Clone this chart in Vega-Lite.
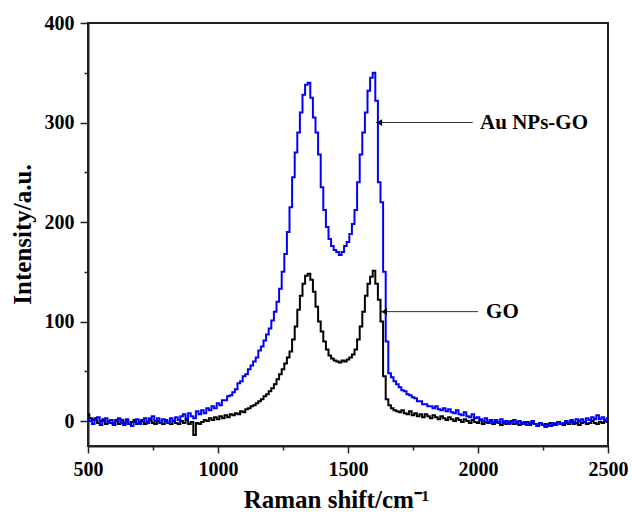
{
  "$schema": "https://vega.github.io/schema/vega-lite/v6.json",
  "width": 520,
  "height": 423,
  "autosize": {"type": "none"},
  "padding": {"left": 88, "top": 23, "right": 24, "bottom": 68},
  "background": "white",
  "config": {
    "view": {"stroke": "#222", "strokeWidth": 2},
    "axis": {
      "labelFont": "Liberation Serif",
      "labelFontWeight": "bold",
      "labelFontSize": 20,
      "labelColor": "#000",
      "titleFont": "Liberation Serif",
      "titleFontWeight": "bold",
      "titleFontSize": 25,
      "titleColor": "#000",
      "tickColor": "#222",
      "tickWidth": 1.5,
      "domainColor": "#222",
      "domainWidth": 2,
      "grid": false
    }
  },
  "datasets": {
    "spectra": [
      {"x":500,"go":7,"au":3},{"x":510,"go":3,"au":0},{"x":520,"go":1,"au":-3},{"x":530,"go":3,"au":2},{"x":540,"go":-2,"au":4},
      {"x":550,"go":0,"au":-4},{"x":560,"go":2,"au":0},{"x":570,"go":-3,"au":3},{"x":580,"go":0,"au":-2},{"x":590,"go":-2,"au":1},
      {"x":600,"go":-4,"au":-3},{"x":610,"go":1,"au":0},{"x":620,"go":-3,"au":3},{"x":630,"go":1,"au":-2},{"x":640,"go":-2,"au":-4},
      {"x":650,"go":0,"au":2},{"x":660,"go":-3,"au":-3},{"x":670,"go":-1,"au":-5},{"x":680,"go":1,"au":-1},{"x":690,"go":-3,"au":2},
      {"x":700,"go":-1,"au":-3},{"x":710,"go":1,"au":0},{"x":720,"go":-3,"au":3},{"x":730,"go":-1,"au":-2},{"x":740,"go":1,"au":3},
      {"x":750,"go":-2,"au":5},{"x":760,"go":-3,"au":0},{"x":770,"go":0,"au":3},{"x":780,"go":-2,"au":-2},{"x":790,"go":-3,"au":2},
      {"x":800,"go":0,"au":1},{"x":810,"go":-2,"au":-2},{"x":820,"go":-3,"au":3},{"x":830,"go":0,"au":0},{"x":840,"go":-2,"au":4},
      {"x":850,"go":-3,"au":1},{"x":860,"go":0,"au":5},{"x":870,"go":-2,"au":7},{"x":880,"go":1,"au":3},{"x":890,"go":-3,"au":8},
      {"x":900,"go":-1,"au":5},{"x":910,"go":-14,"au":3},{"x":920,"go":-2,"au":10},{"x":930,"go":-3,"au":7},{"x":940,"go":-1,"au":11},
      {"x":950,"go":1,"au":8},{"x":960,"go":0,"au":13},{"x":970,"go":3,"au":11},{"x":980,"go":1,"au":15},{"x":990,"go":4,"au":13},
      {"x":1000,"go":2,"au":18},{"x":1010,"go":5,"au":16},{"x":1020,"go":3,"au":21},{"x":1030,"go":6,"au":21},{"x":1040,"go":4,"au":25},
      {"x":1050,"go":7,"au":26},{"x":1060,"go":6,"au":29},{"x":1070,"go":8,"au":32},{"x":1080,"go":7,"au":38},{"x":1090,"go":10,"au":40},
      {"x":1100,"go":9,"au":45},{"x":1110,"go":12,"au":47},{"x":1120,"go":13,"au":52},{"x":1130,"go":15,"au":56},{"x":1140,"go":16,"au":60},
      {"x":1150,"go":18,"au":64},{"x":1160,"go":20,"au":71},{"x":1170,"go":22,"au":75},{"x":1180,"go":25,"au":81},{"x":1190,"go":27,"au":87},
      {"x":1200,"go":30,"au":93},{"x":1210,"go":33,"au":101},{"x":1220,"go":37,"au":110},{"x":1230,"go":42,"au":120},{"x":1240,"go":47,"au":133},
      {"x":1250,"go":52,"au":150},{"x":1260,"go":58,"au":168},{"x":1270,"go":64,"au":190},{"x":1280,"go":70,"au":215},{"x":1290,"go":82,"au":245},
      {"x":1300,"go":95,"au":270},{"x":1310,"go":112,"au":290},{"x":1320,"go":126,"au":310},{"x":1330,"go":138,"au":328},{"x":1340,"go":146,"au":338},
      {"x":1350,"go":148,"au":340},{"x":1360,"go":142,"au":325},{"x":1370,"go":130,"au":305},{"x":1380,"go":115,"au":290},{"x":1390,"go":100,"au":268},
      {"x":1400,"go":90,"au":235},{"x":1410,"go":80,"au":212},{"x":1420,"go":72,"au":195},{"x":1430,"go":66,"au":183},{"x":1440,"go":63,"au":176},
      {"x":1450,"go":61,"au":172},{"x":1460,"go":60,"au":170},{"x":1470,"go":59,"au":167},{"x":1480,"go":61,"au":170},{"x":1490,"go":60,"au":176},
      {"x":1500,"go":62,"au":180},{"x":1510,"go":64,"au":188},{"x":1520,"go":67,"au":198},{"x":1530,"go":72,"au":212},{"x":1540,"go":82,"au":240},
      {"x":1550,"go":95,"au":268},{"x":1560,"go":110,"au":290},{"x":1570,"go":126,"au":310},{"x":1580,"go":138,"au":332},{"x":1590,"go":145,"au":345},
      {"x":1600,"go":151,"au":350},{"x":1610,"go":138,"au":322},{"x":1620,"go":122,"au":240},{"x":1630,"go":100,"au":220},{"x":1640,"go":45,"au":150},
      {"x":1650,"go":22,"au":80},{"x":1660,"go":16,"au":48},{"x":1670,"go":13,"au":44},{"x":1680,"go":11,"au":40},{"x":1690,"go":10,"au":37},
      {"x":1700,"go":9,"au":34},{"x":1710,"go":11,"au":31},{"x":1720,"go":8,"au":30},{"x":1730,"go":7,"au":27},{"x":1740,"go":10,"au":26},
      {"x":1750,"go":6,"au":24},{"x":1760,"go":8,"au":23},{"x":1770,"go":5,"au":20},{"x":1780,"go":7,"au":20},{"x":1790,"go":4,"au":17},
      {"x":1800,"go":7,"au":17},{"x":1810,"go":5,"au":15},{"x":1820,"go":3,"au":15},{"x":1830,"go":6,"au":13},{"x":1840,"go":4,"au":15},
      {"x":1850,"go":2,"au":12},{"x":1860,"go":5,"au":11},{"x":1870,"go":3,"au":13},{"x":1880,"go":1,"au":10},{"x":1890,"go":4,"au":12},
      {"x":1900,"go":2,"au":9},{"x":1910,"go":0,"au":8},{"x":1920,"go":3,"au":11},{"x":1930,"go":1,"au":7},{"x":1940,"go":-1,"au":6},
      {"x":1950,"go":2,"au":9},{"x":1960,"go":0,"au":5},{"x":1970,"go":-2,"au":4},{"x":1980,"go":1,"au":7},{"x":1990,"go":-1,"au":3},
      {"x":2000,"go":-2,"au":4},{"x":2010,"go":1,"au":2},{"x":2020,"go":-3,"au":0},{"x":2030,"go":-1,"au":3},{"x":2040,"go":-2,"au":-1},
      {"x":2050,"go":1,"au":1},{"x":2060,"go":-3,"au":-2},{"x":2070,"go":-1,"au":1},{"x":2080,"go":-2,"au":-1},{"x":2090,"go":-4,"au":2},
      {"x":2100,"go":-1,"au":-2},{"x":2110,"go":-3,"au":0},{"x":2120,"go":-2,"au":-3},{"x":2130,"go":0,"au":-1},{"x":2140,"go":-3,"au":1},
      {"x":2150,"go":-1,"au":-2},{"x":2160,"go":-4,"au":0},{"x":2170,"go":-2,"au":-3},{"x":2180,"go":-3,"au":-1},{"x":2190,"go":-1,"au":-4},
      {"x":2200,"go":-4,"au":-2},{"x":2210,"go":-2,"au":0},{"x":2220,"go":-3,"au":-3},{"x":2230,"go":-5,"au":-5},{"x":2240,"go":-2,"au":-2},
      {"x":2250,"go":-4,"au":-4},{"x":2260,"go":-3,"au":-6},{"x":2270,"go":-5,"au":-3},{"x":2280,"go":-2,"au":-5},{"x":2290,"go":-4,"au":-2},
      {"x":2300,"go":-3,"au":-4},{"x":2310,"go":-1,"au":-1},{"x":2320,"go":-3,"au":-3},{"x":2330,"go":-4,"au":-2},{"x":2340,"go":-2,"au":0},
      {"x":2350,"go":-3,"au":-2},{"x":2360,"go":-1,"au":1},{"x":2370,"go":-3,"au":-1},{"x":2380,"go":-2,"au":2},{"x":2390,"go":-4,"au":0},
      {"x":2400,"go":-2,"au":2},{"x":2410,"go":-1,"au":-1},{"x":2420,"go":-3,"au":3},{"x":2430,"go":-2,"au":1},{"x":2440,"go":0,"au":4},
      {"x":2450,"go":-2,"au":2},{"x":2460,"go":-3,"au":6},{"x":2470,"go":-1,"au":2},{"x":2480,"go":-2,"au":4},{"x":2490,"go":0,"au":1},
      {"x":2500,"go":-1,"au":3}
    ],
    "notes": [
      {"label":"Au NPs-GO","y":300,"tip":1607,"head":1620,"end":1980,"text_x":2008},
      {"label":"GO","y":110,"tip":1626,"head":1639,"end":2000,"text_x":2031}
    ]
  },
  "resolve": {"axis": {"x": "independent", "y": "independent"}},
  "layer": [
    {
      "data": {"name": "spectra"},
      "mark": {"type": "line", "interpolate": "step", "color": "#000000", "strokeWidth": 2, "clip": true},
      "encoding": {
        "x": {"field": "x", "type": "quantitative",
              "scale": {"domain": [500, 2500], "nice": false, "zero": false},
              "axis": {"orient": "bottom", "title": "Raman shift/cm⁻¹", "values": [500, 1000, 1500, 2000, 2500], "format": "d",
                       "tickSize": 7, "labelPadding": 6, "labelFlush": false,
                       "titleX": 248, "titleY": 61, "titleAlign": "center", "titleBaseline": "alphabetic"}},
        "y": {"field": "go", "type": "quantitative",
              "scale": {"domain": [-25, 400], "nice": false, "zero": false},
              "axis": {"orient": "left", "title": "Intensity/a.u.", "values": [0, 100, 200, 300, 400], "format": "d",
                       "tickSize": 8, "labelPadding": 6,
                       "titleX": -58, "titleY": 211, "titleAlign": "center", "titleBaseline": "alphabetic", "titleAngle": -90}}
      }
    },
    {
      "data": {"name": "spectra"},
      "mark": {"type": "line", "interpolate": "step", "color": "#0000FF", "strokeWidth": 2, "clip": true},
      "encoding": {
        "x": {"field": "x", "type": "quantitative", "scale": {"domain": [500, 2500], "nice": false, "zero": false}, "axis": null},
        "y": {"field": "au", "type": "quantitative", "scale": {"domain": [-25, 400], "nice": false, "zero": false}, "axis": null}
      }
    },
    {
      "data": {"name": "notes"},
      "mark": {"type": "rule", "color": "#333", "strokeWidth": 1},
      "encoding": {
        "x": {"field": "tip", "type": "quantitative", "scale": {"domain": [500, 2500], "nice": false, "zero": false},
              "axis": {"orient": "bottom", "title": null, "values": [750, 1250, 1750, 2250], "tickSize": 4, "labels": false, "domain": false}},
        "x2": {"field": "end"},
        "y": {"field": "y", "type": "quantitative", "scale": {"domain": [-25, 400], "nice": false, "zero": false},
              "axis": {"orient": "left", "title": null, "values": [50, 150, 250, 350], "tickSize": 4, "labels": false, "domain": false}}
      }
    },
    {
      "data": {"name": "notes"},
      "mark": {"type": "point", "shape": "triangle-left", "filled": true, "color": "#000", "size": 45, "opacity": 1},
      "encoding": {
        "x": {"field": "head", "type": "quantitative", "scale": {"domain": [500, 2500], "nice": false, "zero": false}, "axis": null},
        "y": {"field": "y", "type": "quantitative", "scale": {"domain": [-25, 400], "nice": false, "zero": false}, "axis": null}
      }
    },
    {
      "data": {"name": "notes"},
      "mark": {"type": "text", "align": "left", "baseline": "middle", "font": "Liberation Serif", "fontWeight": "bold", "fontSize": 21, "color": "#000"},
      "encoding": {
        "x": {"field": "text_x", "type": "quantitative", "scale": {"domain": [500, 2500], "nice": false, "zero": false}, "axis": null},
        "y": {"field": "y", "type": "quantitative", "scale": {"domain": [-25, 400], "nice": false, "zero": false}, "axis": null},
        "text": {"field": "label"}
      }
    }
  ]
}
